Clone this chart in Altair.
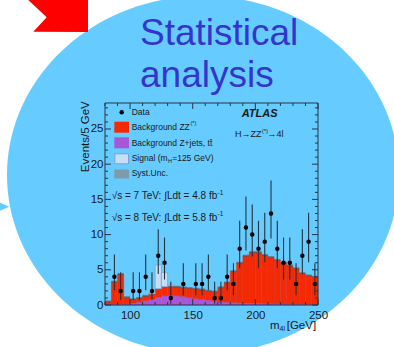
import altair as alt
import pandas as pd

# ------------------------------------------------------------------ data
bin_low = [80, 85, 90, 95, 100, 105, 110, 115, 120, 125, 130, 135, 140, 145, 150, 155, 160,
           165, 170, 175, 180, 185, 190, 195, 200, 205, 210, 215, 220, 225, 230, 235, 240, 245]
BIN_W = 5
zjets_tt = [0.05, 0.1, 0.1, 0.15, 0.25, 0.4, 0.6, 0.85, 1.1, 1.3, 1.35, 1.3, 1.2, 1.05, 0.9, 0.8, 0.7,
            0.55, 0.45, 0.4, 0.35, 0.3, 0.28, 0.25, 0.22, 0.2, 0.18, 0.16, 0.14, 0.12, 0.11, 0.1, 0.09, 0.08]
zz_bkg = [0.45, 3.2, 4.3, 0.95, 0.55, 0.6, 0.7, 0.75, 1.2, 1.3, 1.35, 1.3, 1.3, 1.35, 1.4, 1.4, 1.3,
          1.35, 2.05, 2.8, 4.45, 5.7, 6.72, 7.25, 7.28, 6.9, 6.62, 6.24, 5.86, 5.48, 5.09, 4.4, 4.11, 3.92]
signal_125 = [0, 0, 0, 0, 0, 0, 0, 0.2, 3.4, 2.0, 0.15, 0, 0, 0, 0, 0, 0,
              0, 0, 0, 0, 0, 0, 0, 0, 0, 0, 0, 0, 0, 0, 0, 0, 0]
SYST_HALF = 0.15

data_mass = [87.5, 92.5, 102.5, 107.5, 112.5, 117.5, 122.5, 127.5, 132.5, 142.5, 152.5, 157.5,
             162.5, 167.5, 172.5, 177.5, 182.5, 187.5, 192.5, 197.5, 202.5, 207.5, 212.5, 217.5,
             222.5, 227.5, 232.5, 237.5, 242.5, 247.5]
data_count = [4, 2, 2, 2, 4, 2, 7, 6, 1, 3, 3, 3, 4, 1, 1, 4, 3, 8, 11, 10, 8, 9, 13, 8, 6, 6, 3, 7, 9, 3]
data_err_lo = [2.09, 0.71, 0.71, 0.71, 2.09, 0.71, 4.42, 3.62, 0.17, 1.37, 1.37, 1.37, 2.09, 0.17, 0.17,
               2.09, 1.37, 5.23, 7.73, 6.89, 5.23, 6.06, 9.44, 5.23, 3.62, 3.62, 1.37, 4.42, 6.06, 1.37]
data_err_hi = [7.16, 4.64, 4.64, 4.64, 7.16, 4.64, 10.77, 9.58, 3.30, 5.92, 5.92, 5.92, 7.16, 3.30, 3.30,
               7.16, 5.92, 11.95, 15.42, 14.27, 11.95, 13.11, 17.70, 11.95, 9.58, 9.58, 5.92, 10.77, 13.11, 5.92]

x_major_ticks = [100, 150, 200, 250]
x_minor_ticks = [80, 90, 110, 120, 130, 140, 160, 170, 180, 190, 210, 220, 230, 240]
y_major_ticks = [0, 5, 10, 15, 20, 25]
y_minor_ticks = [i for i in range(0, 29) if i % 5]

# ------------------------------------------------------------------ layout
OX, OY, W, H = 105, 103, 213, 202
XMIN, XMAX, YMAX = 80, 250, 28.69
FONT = "Liberation Sans"
TXT = "#1a1a1a"
FRAME = "#2a3540"

one = pd.DataFrame({"k": [0]})

hist = pd.DataFrame({"m": bin_low, "zj": zjets_tt, "zz": zz_bkg, "sig": signal_125})
hist["m2"] = hist["m"] + BIN_W
hist["zj_top"] = hist["zj"]
hist["zz_top"] = hist["zj"] + hist["zz"]
hist["sig_top"] = hist["zz_top"] + hist["sig"]

pts = pd.DataFrame({"m": data_mass, "v": data_count, "lo": data_err_lo, "hi": data_err_hi})

xs = alt.Scale(domain=[XMIN, XMAX], nice=False, zero=False)
ys = alt.Scale(domain=[0, YMAX], nice=False, zero=True)
xaxis = alt.Axis(values=x_major_ticks, format="d", title=None, ticks=False, domain=False, grid=False,
                 labelFont=FONT, labelFontSize=11.5, labelColor=TXT, labelPadding=4,
                 labelFlush=False, zindex=1)
yaxis = alt.Axis(values=y_major_ticks, format="d", title=None, ticks=False, domain=False, grid=False,
                 labelFont=FONT, labelFontSize=11.5, labelColor=TXT, labelPadding=2, zindex=1)


def X(f):
    return alt.X(f, type="quantitative", scale=xs, axis=xaxis)


def Y(f):
    return alt.Y(f, type="quantitative", scale=ys, axis=yaxis)


def px(x):
    return alt.value(x - OX)


def py(y):
    return alt.value(y - OY)


def text(s, x, y, size, color=TXT, align="left", baseline="middle", **kw):
    return alt.Chart(one).mark_text(text=s, font=FONT, fontSize=size, color=color, align=align,
                                    baseline=baseline, **kw).encode(x=px(x), y=py(y))


def shape(path, cx, cy, size, color):
    return alt.Chart(one).mark_point(shape=path, filled=True, fill=color, opacity=1, strokeWidth=0,
                                     size=size).encode(x=px(cx), y=py(cy))


layers = []

# ---- slide decorations
k = 0.5523
ry = 179 / 196
ellipse = (f"M 1 0 C 1 {k*ry:.4f} {k:.4f} {ry:.4f} 0 {ry:.4f} "
           f"C {-k:.4f} {ry:.4f} -1 {k*ry:.4f} -1 0 "
           f"C -1 {-k*ry:.4f} {-k:.4f} {-ry:.4f} 0 {-ry:.4f} "
           f"C {k:.4f} {-ry:.4f} 1 {-k*ry:.4f} 1 0 Z")
layers.append(shape(ellipse, 203, 175, 392 ** 2, "#66CCFF"))
layers.append(shape("M -1.08 -0.633 L 1.017 -0.633 L 1.017 0.533 L -0.807 0.523 L -0.36 0.043 Z",
                    57.5, 16, 3600, "#FF0000"))
layers.append(shape("M -1 -0.833 L 0.883 0 L -1 0.833 Z", 4, 206.7, 144, "#66CCFF"))
layers.append(text("Statistical", 140, 45, 37, color="#3535CC", baseline="alphabetic"))
layers.append(text("analysis", 140, 87, 37, color="#3535CC", baseline="alphabetic"))

# ---- histogram stack
layers.append(alt.Chart(hist).mark_rect(color="#a855d8", stroke="#a855d8", strokeWidth=0.3).encode(
    x=X("m"), x2="m2", y=Y("v0:Q"), y2="zj_top").transform_calculate(v0="0"))
layers.append(alt.Chart(hist).mark_rect(color="#f32a05", stroke="#f32a05", strokeWidth=0.3).encode(
    x=X("m"), x2="m2", y=Y("zj_top"), y2="zz_top"))
layers.append(alt.Chart(hist).transform_calculate(
    blo=f"datum.zz_top - {SYST_HALF}", bhi=f"datum.zz_top + {SYST_HALF}").mark_rect(
    color="#4a5560", opacity=0.55).encode(x=X("m"), x2="m2", y=Y("blo:Q"), y2="bhi:Q"))
layers.append(alt.Chart(hist).transform_filter("datum.sig > 0").mark_rect(
    color="#c8def8", stroke="#7f9fcf", strokeWidth=0.8).encode(
    x=X("m"), x2="m2", y=Y("zz_top"), y2="sig_top"))

# ---- data
layers.append(alt.Chart(pts).mark_rule(color="#26323c", strokeWidth=1.1).encode(
    x=X("m"), y=Y("lo"), y2="hi"))
layers.append(alt.Chart(pts).mark_point(filled=True, color="black", opacity=1, size=20).encode(
    x=X("m"), y=Y("v")))

# ---- frame and inward ticks
layers.append(alt.Chart(one).mark_rect(fillOpacity=0, stroke=FRAME, strokeWidth=1).encode(
    x=alt.value(0), x2=alt.value(W), y=alt.value(0), y2=alt.value(H)))
xmaj = pd.DataFrame({"m": x_major_ticks})
xmin = pd.DataFrame({"m": x_minor_ticks})
ymaj = pd.DataFrame({"v": y_major_ticks})
ymin = pd.DataFrame({"v": y_minor_ticks})
for df, ln in ((xmaj, 6), (xmin, 3)):
    layers.append(alt.Chart(df).mark_rule(color=FRAME, strokeWidth=1).encode(
        x=X("m"), y=alt.value(H), y2=alt.value(H - ln)))
    layers.append(alt.Chart(df).mark_rule(color=FRAME, strokeWidth=1).encode(
        x=X("m"), y=alt.value(0), y2=alt.value(ln)))
for df, ln in ((ymaj, 6), (ymin, 3)):
    layers.append(alt.Chart(df).mark_rule(color=FRAME, strokeWidth=1).encode(
        y=Y("v"), x=alt.value(0), x2=alt.value(ln)))
    layers.append(alt.Chart(df).mark_rule(color=FRAME, strokeWidth=1).encode(
        y=Y("v"), x=alt.value(W), x2=alt.value(W - ln)))

# ---- legend
def box(x1, x2, y1, y2, fill, stroke=None, sw=0):
    kw = dict(fill=fill, strokeWidth=sw)
    if stroke:
        kw["stroke"] = stroke
    return alt.Chart(one).mark_rect(**kw).encode(x=px(x1), x2=px(x2), y=py(y1), y2=py(y2))


LEG = 8.5
layers.append(alt.Chart(one).mark_point(filled=True, color="black", opacity=1, size=20).encode(
    x=px(121.7), y=py(112.3)))
layers.append(box(114.3, 129, 121.7, 132.7, "#f32a05"))
layers.append(box(114.3, 129, 137.3, 148.3, "#a855d8"))
layers.append(box(114.8, 128.5, 153.8, 163.8, "#c8def8", "#7f9fcf", 1))
layers.append(box(114.3, 129, 169.5, 178.5, "#7f9aab"))
layers.append(text("Data", 131.7, 112.3, LEG))
layers.append(text("Background ZZ", 131.7, 127.3, LEG))
layers.append(text("(*)", 190.5, 123.3, 5.5))
layers.append(text("Background Z+jets, t\u0074\u0304", 131.7, 142.7, LEG))
layers.append(text("Signal (m", 131.7, 158.3, LEG))
layers.append(text("H", 168.0, 161, 5.5))
layers.append(text("=125 GeV)", 172.2, 158.3, LEG))
layers.append(text("Syst.Unc.", 131.7, 173.3, LEG))

# ---- annotations
layers.append(text("ATLAS", 241.7, 113.7, 11, fontStyle="italic", fontWeight="bold"))
layers.append(text("H\u2192ZZ", 235, 134.3, 9))
layers.append(text("(*)", 261.7, 131, 6))
layers.append(text("\u21924l", 267.5, 134.3, 9))
layers.append(text("\u221as = 7 TeV: \u222bLdt = 4.8 fb", 111.7, 196, 10))
layers.append(text("-1", 217.5, 192.5, 6.5))
layers.append(text("\u221as = 8 TeV: \u222bLdt = 5.8 fb", 111.7, 217.7, 10))
layers.append(text("-1", 217.5, 214.2, 6.5))
layers.append(text("Events/5 GeV", 85.5, 136.7, 11.5, align="center", angle=270))
layers.append(text("m", 270, 326, 11.5))
layers.append(text("4l", 279.6, 329, 7))
layers.append(text("[GeV]", 286.7, 326, 11.5))

chart = alt.layer(*layers).properties(
    width=W, height=H,
    autosize=alt.AutoSizeParams(type="none"),
    padding={"left": OX, "top": OY, "right": 394 - OX - W, "bottom": 347 - OY - H},
    background="white",
).configure_view(stroke=None)

chart.save("out.html", embed_options={"renderer": "svg", "actions": False})
